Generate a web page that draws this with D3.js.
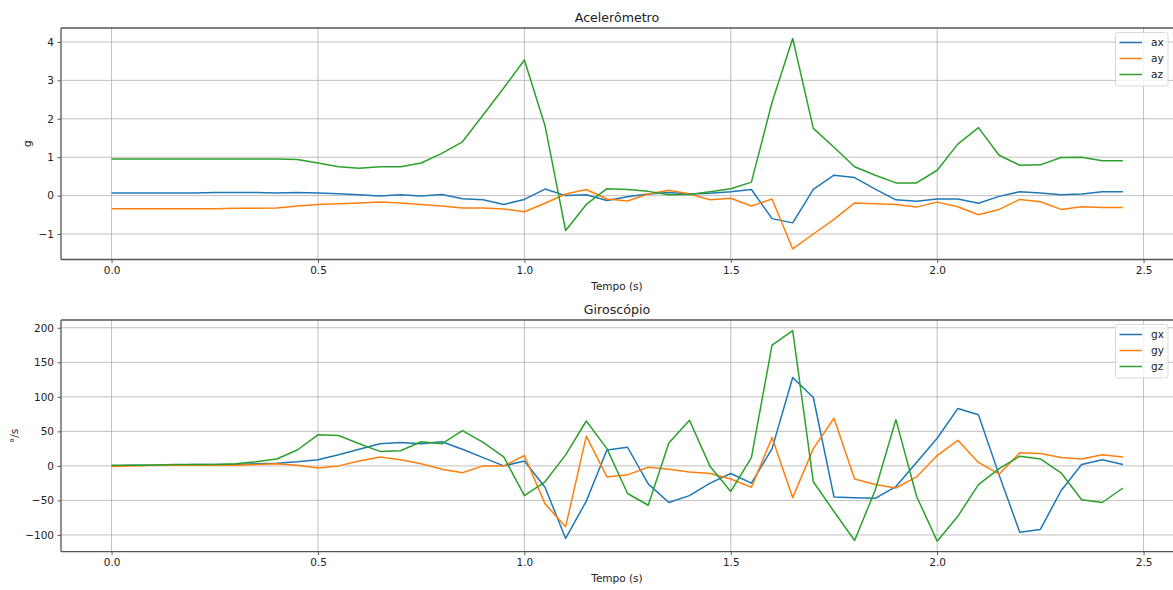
<!DOCTYPE html>
<html>
<head>
<meta charset="utf-8">
<script src="https://cdn.jsdelivr.net/npm/d3@7"></script>
<style>
  body { margin: 0; background: #fff; }
  svg { display: block; font-family: "DejaVu Sans", sans-serif; }
</style>
</head>
<body>
<svg id="chart" width="1173" height="590"></svg>
<script>
// time (s)
const tempo = [0.00,0.05,0.10,0.15,0.20,0.25,0.30,0.35,0.40,0.45,
               0.50,0.55,0.60,0.65,0.70,0.75,0.80,0.85,0.90,0.95,
               1.00,1.05,1.10,1.15,1.20,1.25,1.30,1.35,1.40,1.45,
               1.50,1.55,1.60,1.65,1.70,1.75,1.80,1.85,1.90,1.95,
               2.00,2.05,2.10,2.15,2.20,2.25,2.30,2.35,2.40,2.45];

// accelerometer (g)
const ax = [0.07,0.07,0.07,0.07,0.07,0.08,0.08,0.08,0.07,0.08,
            0.07,0.05,0.02,-0.01,0.02,-0.01,0.03,-0.08,-0.11,-0.23,
            -0.10,0.17,0.00,0.02,-0.13,-0.03,0.04,0.08,0.04,0.06,
            0.10,0.16,-0.60,-0.71,0.16,0.53,0.47,0.17,-0.11,-0.15,
            -0.09,-0.09,-0.20,-0.02,0.10,0.07,0.02,0.04,0.10,0.10];
const ay = [-0.34,-0.34,-0.34,-0.34,-0.34,-0.34,-0.33,-0.33,-0.32,-0.27,
            -0.23,-0.21,-0.19,-0.17,-0.19,-0.23,-0.27,-0.32,-0.32,-0.35,
            -0.42,-0.20,0.04,0.16,-0.09,-0.14,0.04,0.14,0.04,-0.11,
            -0.07,-0.27,-0.09,-1.39,-1.00,-0.62,-0.19,-0.21,-0.23,-0.30,
            -0.17,-0.29,-0.50,-0.36,-0.10,-0.16,-0.36,-0.29,-0.31,-0.31];
const az = [0.95,0.95,0.95,0.95,0.95,0.95,0.95,0.95,0.95,0.94,
            0.85,0.75,0.71,0.75,0.75,0.85,1.10,1.40,2.10,2.80,
            3.53,1.82,-0.91,-0.23,0.18,0.16,0.11,0.02,0.03,0.10,
            0.18,0.35,2.43,4.09,1.75,1.26,0.75,0.53,0.33,0.33,
            0.66,1.34,1.77,1.05,0.79,0.80,0.99,1.00,0.91,0.91];

// gyroscope (deg/s)
const gx = [0,1,1,1,2,2,2,3,4,6,
            9,16,24,32,34,32,35,24,12,0,
            7,-31,-105,-51,23,27,-26,-53,-43,-25,
            -11,-25,25,128,99,-45,-46,-47,-30,5,
            40,83,74,-13,-96,-92,-36,2,9,2];
const gy = [-1,0,1,1,1,1,1,2,3,1,
            -3,0,7,13,9,3,-5,-10,0,0,
            15,-55,-88,43,-16,-13,-2,-5,-9,-11,
            -19,-31,41,-46,25,69,-19,-27,-32,-16,
            15,37,5,-12,19,18,12,10,16,13];
const gz = [1,1,1,2,2,2,3,6,10,23,
            45,44,32,21,22,35,32,51,34,13,
            -43,-23,16,65,25,-40,-57,33,66,-1,
            -37,12,175,196,-23,-66,-108,-35,67,-44,
            -109,-73,-27,-4,14,10,-10,-49,-53,-32];

const xTicks = [0, 0.5, 1.0, 1.5, 2.0, 2.5];
const accTicks = [-1, 0, 1, 2, 3, 4];
const gyroTicks = [-100, -50, 0, 50, 100, 150, 200];

const colors = ['#1f77b4', '#ff7f0e', '#2ca02c'];
const svg = d3.select('#chart');

// matplotlib style 5% margins
function padded(ext) {
  let p = (ext[1] - ext[0]) * 0.05;
  return [ext[0] - p, ext[1] + p];
}

const minus = (s) => s.replace('-', '\u2212');

function panel(cfg) {
  let left = 61, right = 1173.5;
  let x = d3.scaleLinear().domain(padded(d3.extent(tempo))).range([left, right]);
  let all = cfg.series.flatMap((s) => s.values);
  let y = d3.scaleLinear().domain(padded(d3.extent(all))).range([cfg.bottom, cfg.top]);

  let g = svg.append('g');

  // grid
  g.selectAll('.gx').data(xTicks).enter().append('line')
    .attr('x1', (d) => x(d)).attr('x2', (d) => x(d))
    .attr('y1', cfg.top).attr('y2', cfg.bottom)
    .attr('stroke', '#b0b0b0').attr('stroke-width', 0.8);
  g.selectAll('.gy').data(cfg.yTicks).enter().append('line')
    .attr('x1', left).attr('x2', right)
    .attr('y1', (d) => y(d)).attr('y2', (d) => y(d))
    .attr('stroke', '#b0b0b0').attr('stroke-width', 0.8);

  // lines
  let line = d3.line().x((d, i) => x(tempo[i])).y((d) => y(d));
  cfg.series.forEach((s, k) => {
    g.append('path')
      .attr('d', line(s.values))
      .attr('fill', 'none')
      .attr('stroke', colors[k])
      .attr('stroke-width', 1.5)
      .attr('stroke-linejoin', 'round');
  });

  // axes
  let xAxis = d3.axisBottom(x).tickValues(xTicks).tickFormat(d3.format('.1f'))
    .tickSize(3.5).tickPadding(3.5);
  let yAxis = d3.axisLeft(y).tickValues(cfg.yTicks).tickFormat((d) => minus(String(d)))
    .tickSize(3.5).tickPadding(3.5);

  let gxA = g.append('g').attr('transform', `translate(0,${cfg.bottom})`).call(xAxis);
  let gyA = g.append('g').attr('transform', `translate(${left},0)`).call(yAxis);
  [gxA, gyA].forEach((a) => {
    a.select('.domain').remove();
    a.selectAll('line').attr('stroke', '#333').attr('stroke-width', 0.8);
    a.selectAll('text').attr('fill', '#222').style('font-size', '10.5px')
      .style('font-family', '"DejaVu Sans", sans-serif');
  });

  // spines
  g.append('line').attr('x1', left).attr('x2', right).attr('y1', cfg.top).attr('y2', cfg.top)
    .attr('stroke', '#555').attr('stroke-width', 1.3);
  g.append('line').attr('x1', left).attr('x2', right).attr('y1', cfg.bottom).attr('y2', cfg.bottom)
    .attr('stroke', '#555').attr('stroke-width', 1.3);
  g.append('line').attr('x1', left).attr('x2', left).attr('y1', cfg.top).attr('y2', cfg.bottom)
    .attr('stroke', '#555').attr('stroke-width', 1.3);

  // title and labels
  g.append('text').attr('x', 617).attr('y', cfg.top - 6.5)
    .attr('text-anchor', 'middle').style('font-size', '12.6px').attr('fill', '#222')
    .text(cfg.title);
  g.append('text').attr('x', 617).attr('y', cfg.bottom + 30.5)
    .attr('text-anchor', 'middle').style('font-size', '10.5px').attr('fill', '#222')
    .text('Tempo (s)');
  g.append('text')
    .attr('transform', `translate(${cfg.ylabelX},${(cfg.top + cfg.bottom) / 2}) rotate(-90)`)
    .attr('text-anchor', 'middle').attr('dy', '0.35em')
    .style('font-size', '10.5px').attr('fill', '#222')
    .text(cfg.ylabel);

  // legend
  let lx = 1115.5, ly = cfg.top + 4.5;
  let leg = g.append('g');
  leg.append('rect').attr('x', lx).attr('y', ly).attr('width', 52.5).attr('height', 53.5)
    .attr('rx', 2.5).attr('fill', 'white').attr('fill-opacity', 0.8)
    .attr('stroke', '#d0d0d0').attr('stroke-width', 0.8);
  cfg.series.forEach((s, k) => {
    let yy = ly + 10 + k * 16;
    leg.append('line').attr('x1', lx + 4).attr('x2', lx + 26.5)
      .attr('y1', yy).attr('y2', yy)
      .attr('stroke', colors[k]).attr('stroke-width', 1.5);
    leg.append('text').attr('x', lx + 35.5).attr('y', yy).attr('dy', '0.35em')
      .style('font-size', '10.5px').attr('fill', '#222').text(s.name);
  });
}

panel({
  title: 'Acelerômetro', ylabel: 'g', ylabelX: 27,
  top: 28, bottom: 259.5, yTicks: accTicks,
  series: [{ name: 'ax', values: ax }, { name: 'ay', values: ay }, { name: 'az', values: az }]
});

panel({
  title: 'Giroscópio', ylabel: '°/s', ylabelX: 14,
  top: 320, bottom: 551.7, yTicks: gyroTicks,
  series: [{ name: 'gx', values: gx }, { name: 'gy', values: gy }, { name: 'gz', values: gz }]
});
</script>
</body>
</html>
